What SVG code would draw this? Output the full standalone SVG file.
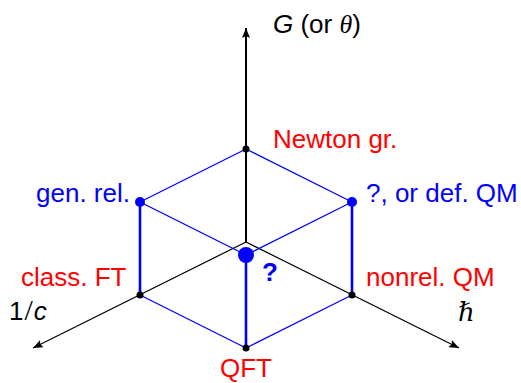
<svg xmlns="http://www.w3.org/2000/svg" width="521" height="383" viewBox="0 0 521 383">
<style>
.lbl{font-family:"Liberation Sans",Arial,sans-serif;font-size:26px}
.red{fill:#ff0000}
.blue{fill:#0000ff}
.ax{stroke:#000;fill:none}
.thin{stroke:#0000ff;stroke-width:1.3;fill:none}
.thick{stroke:#0000ff;stroke-width:2.6;fill:none}
</style>
<defs>
<marker id="arr" viewBox="0 0 10 8" refX="10" refY="4" markerWidth="10" markerHeight="8" markerUnits="userSpaceOnUse" orient="auto">
<path d="M0,0 L10,4 L0,8 L2,4 Z" fill="#000"/>
</marker>
</defs>
<rect width="521" height="383" fill="#fff"/>
<g id="connectors">
<line class="ax" x1="246" y1="242" x2="246" y2="28" stroke-width="2" marker-end="url(#arr)"/>
<line class="ax" x1="246" y1="242" x2="33" y2="348" stroke-width="1.2" marker-end="url(#arr)"/>
<line class="ax" x1="246" y1="242" x2="459" y2="348" stroke-width="1.2" marker-end="url(#arr)"/>
<line class="thin" x1="246" y1="149" x2="140" y2="202"/>
<line class="thin" x1="246" y1="149" x2="352" y2="202"/>
<line class="thin" x1="140" y1="202" x2="246" y2="255"/>
<line class="thin" x1="352" y1="202" x2="246" y2="255"/>
<line class="thin" x1="140" y1="295" x2="246" y2="348"/>
<line class="thin" x1="352" y1="295" x2="246" y2="348"/>
<line class="thick" x1="140" y1="202" x2="140" y2="295"/>
<line class="thick" x1="352" y1="202" x2="352" y2="295"/>
<line class="thick" x1="246" y1="255" x2="246" y2="348"/>
</g>
<g id="axis-G"><text class="lbl" x="273" y="33"><tspan font-style="italic">G</tspan> (or <tspan font-family="Liberation Serif,serif" font-style="italic">θ</tspan>)</text></g>
<g id="axis-c"><text class="lbl" x="9" y="320" font-size="25">1<tspan font-family="Liberation Serif,serif" font-size="30" dx="1">/</tspan><tspan font-style="italic" dx="1">c</tspan></text></g>
<g id="axis-hbar"><text x="458" y="321" font-family="Liberation Serif,DejaVu Serif,serif" font-style="italic" font-size="26">ℏ</text></g>
<g id="newton"><circle cx="246" cy="149" r="3.5" fill="#000"/><text class="lbl red" x="273" y="148">Newton gr.</text></g>
<g id="genrel"><circle cx="140" cy="202" r="5" fill="#0000ff"/><text class="lbl blue" x="130" y="202" text-anchor="end">gen. rel.</text></g>
<g id="defqm"><circle cx="352" cy="202" r="5" fill="#0000ff"/><text class="lbl blue" x="366" y="202">?, or def. QM</text></g>
<g id="classft"><circle cx="140" cy="295" r="3.5" fill="#000"/><text class="lbl red" x="21" y="286">class. FT</text></g>
<g id="nonrel"><circle cx="352" cy="295" r="3.5" fill="#000"/><text class="lbl red" x="366" y="286">nonrel. QM</text></g>
<g id="qft"><circle cx="246" cy="348" r="3.5" fill="#000"/><text class="lbl red" x="246" y="377" text-anchor="middle">QFT</text></g>
<g id="center"><circle cx="246" cy="255" r="8" fill="#0000ff"/><text class="lbl blue" x="262" y="281" font-weight="bold" font-size="25">?</text></g>
</svg>
